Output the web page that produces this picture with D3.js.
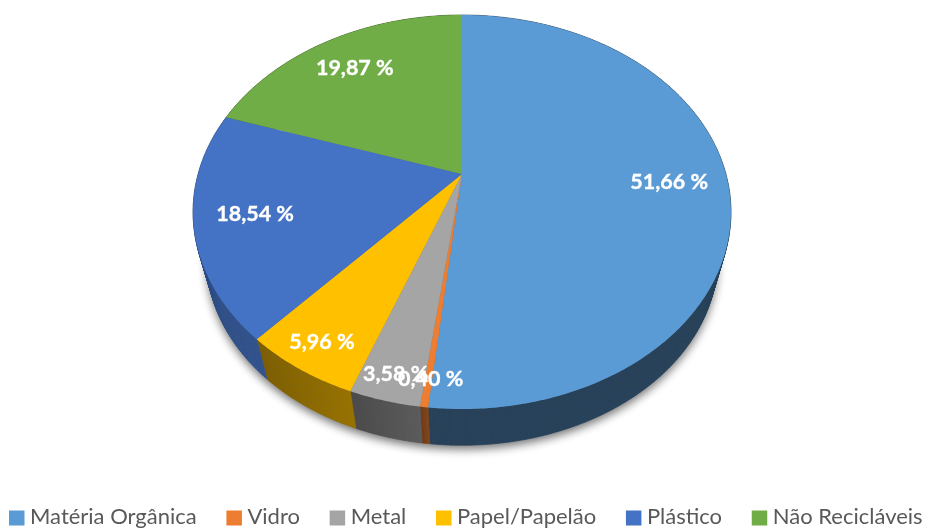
<!DOCTYPE html>
<html>
<head>
<meta charset="utf-8">
<script src="https://cdn.jsdelivr.net/npm/d3@7"></script>
<style>
html, body { margin: 0; padding: 0; background: #fff; }
svg { display: block; }
</style>
</head>
<body>
<script>
var categories = ["Matéria Orgânica", "Vidro", "Metal", "Papel/Papelão", "Plástico", "Não Recicláveis"];
var values = [51.66, 0.40, 3.58, 5.96, 18.54, 19.87];
var labels = ["51,66 %", "0,40 %", "3,58 %", "5,96 %", "18,54 %", "19,87 %"];
var colors = ["#5b9bd5", "#ed7d31", "#a5a5a5", "#ffc000", "#4472c4", "#70ad47"];
var wallShade = [0.42, 0.5, 0.5, 0.54, 0.66, 0.5];

var width = 925, height = 529;
var apexX = 462, apexY = 174;
var tilt = 0.1929, ax = 263.9, ay = 189.7;

var svg = d3.select("body").append("svg")
    .attr("width", width)
    .attr("height", height)
    .style("filter", "blur(0.45px)");

var defs = svg.append("defs");
defs.append("filter").attr("id", "shadow")
    .attr("x", "-20%").attr("y", "-20%").attr("width", "140%").attr("height", "140%")
    .append("feGaussianBlur").attr("stdDeviation", 5);

// perspective view of the disc: apex is the disc centre, the front is nearer
function project(a, r) {
    var x = Math.sin(a) * r, y = -Math.cos(a) * r;
    var w = 1 - tilt * y;
    return [apexX + ax * x / w, apexY + ay * y / w];
}
// the underside is a bit smaller and lower
function lower(p) {
    return [apexX + (p[0] - apexX) * 0.95, apexY + 48 + (p[1] - apexY) * 0.95];
}
function arcPoints(a0, a1) {
    var n = Math.max(2, Math.ceil((a1 - a0) / 0.01));
    return d3.range(n + 1).map(function (i) {
        return project(a0 + (a1 - a0) * i / n, 1);
    });
}

var line = d3.line();
var arcs = d3.pie().sort(null).value(function (d) { return d; })(values);

// soft shadow under the pie
svg.append("path")
    .attr("d", line(arcPoints(0, 2 * Math.PI).map(lower)) + "Z")
    .attr("transform", "translate(0,4)")
    .attr("fill", "#000")
    .attr("opacity", 0.55)
    .attr("filter", "url(#shadow)");

// side wall, cut in thin strips so the shade can drift along it
var wall = svg.append("g");
arcs.forEach(function (d, i) {
    var pts = arcPoints(d.startAngle, d.endAngle);
    var base = d3.rgb(colors[i]);
    for (var j = 0; j < pts.length - 1; j++) {
        var t = j / (pts.length - 1);
        var k = wallShade[i] * (i == 0 ? 1 : 1.1 - 0.2 * t);
        wall.append("path")
            .attr("d", line([pts[j], pts[j + 1], lower(pts[j + 1]), lower(pts[j])]) + "Z")
            .attr("fill", d3.rgb(base.r * k, base.g * k, base.b * k))
            .attr("stroke", d3.rgb(base.r * k, base.g * k, base.b * k))
            .attr("stroke-width", 0.6);
    }
});

// top face
svg.append("g").selectAll("path")
    .data(arcs)
    .enter()
    .append("path")
    .attr("d", function (d) {
        return line([[apexX, apexY]].concat(arcPoints(d.startAngle, d.endAngle))) + "Z";
    })
    .attr("fill", function (d, i) { return colors[i]; });

// data labels: narrow slices carry theirs closer to the rim
svg.append("g").selectAll("text")
    .data(arcs)
    .enter()
    .append("text")
    .attr("transform", function (d) {
        var share = (d.endAngle - d.startAngle) / (2 * Math.PI);
        var r = share < 0.05 ? 0.9 : share < 0.1 ? 0.88 : 0.78;
        var p = project((d.startAngle + d.endAngle) / 2, r);
        return "translate(" + [p[0] + (share < 0.05 ? 2 : 0), p[1]] + ")";
    })
    .attr("text-anchor", "middle")
    .attr("dy", "0.35em")
    .attr("font-family", "Lato")
    .attr("font-weight", 700)
    .attr("font-size", 21.5)
    .attr("fill", "#fff")
    .attr("stroke", "#fff")
    .attr("stroke-width", 0.35)
    .text(function (d, i) { return labels[i]; });

// legend, laid out left to right from the measured text widths
var legend = svg.append("g");
var cursor = 9;
categories.forEach(function (name, i) {
    legend.append("rect")
        .attr("x", cursor).attr("y", 510.5)
        .attr("width", 15.5).attr("height", 15)
        .attr("fill", colors[i]);
    var t = legend.append("text")
        .attr("x", cursor + 21).attr("y", 524)
        .attr("font-family", "Lato")
        .attr("font-size", 22)
        .attr("fill", "#595959")
        .text(name);
    cursor += 21 + t.node().getComputedTextLength() + 29.7;
});
</script>
</body>
</html>
